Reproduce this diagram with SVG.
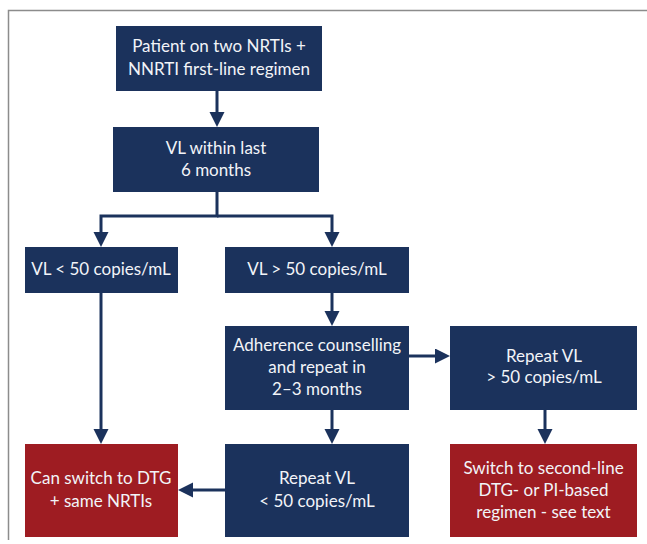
<svg xmlns="http://www.w3.org/2000/svg" width="647" height="544" viewBox="0 0 647 544">
<defs>
<style>
.nb{fill:#1b325c}
.rb{fill:#9e1c22}
.t{font-family:Lato,"Open Sans","Liberation Sans",sans-serif;font-size:17px;fill:#f2f4f8;text-anchor:middle}
.c{fill:none;stroke:#1b325c;stroke-width:3}
</style>
<marker id="ah" markerUnits="userSpaceOnUse" markerWidth="16" markerHeight="16" refX="5" refY="7.5" orient="auto">
<path d="M0,0 L15,7.5 L0,15 z" fill="#1b325c"/>
</marker>
</defs>
<rect width="647" height="544" fill="#ffffff"/>
<path d="M8.5,540 V10.5 H647" fill="none" stroke="#8c8c8c" stroke-width="1.5"/>
<g id="connectors">
<path class="c" d="M217,91 V117" marker-end="url(#ah)"/>
<path class="c" d="M217,192 V216 H101 V237" marker-end="url(#ah)"/>
<path class="c" d="M217,216 H332 V237" marker-end="url(#ah)"/>
<path class="c" d="M101,293 V434" marker-end="url(#ah)"/>
<path class="c" d="M332,293 V316" marker-end="url(#ah)"/>
<path class="c" d="M409,356 H440" marker-end="url(#ah)"/>
<path class="c" d="M332,410 V434" marker-end="url(#ah)"/>
<path class="c" d="M545,410 V434" marker-end="url(#ah)"/>
<path class="c" d="M225,490 H188" marker-end="url(#ah)"/>
</g>
<g id="n1"><rect class="nb" x="116" y="26" width="206" height="65"/>
<text class="t" x="219" y="52">Patient on two NRTIs +</text>
<text class="t" x="219" y="75">NNRTI first-line regimen</text></g>
<g id="n2"><rect class="nb" x="113" y="127" width="206" height="65"/>
<text class="t" x="216" y="154">VL within last</text>
<text class="t" x="216" y="176">6 months</text></g>
<g id="n3"><rect class="nb" x="25" y="247" width="153" height="46"/>
<text class="t" x="101" y="275">VL &lt; 50 copies/mL</text></g>
<g id="n4"><rect class="nb" x="225" y="247" width="184" height="46"/>
<text class="t" x="317" y="275">VL &gt; 50 copies/mL</text></g>
<g id="n5"><rect class="nb" x="225" y="326" width="184" height="84"/>
<text class="t" x="317" y="350.5">Adherence counselling</text>
<text class="t" x="317" y="372.5">and repeat in</text>
<text class="t" x="317" y="394.5">2–3 months</text></g>
<g id="n6"><rect class="nb" x="450" y="326" width="187" height="84"/>
<text class="t" x="544" y="361.5">Repeat VL</text>
<text class="t" x="544" y="383">&gt; 50 copies/mL</text></g>
<g id="n7"><rect class="rb" x="25" y="444" width="153" height="93"/>
<text class="t" x="101" y="484">Can switch to DTG</text>
<text class="t" x="101" y="506.5">+ same NRTIs</text></g>
<g id="n8"><rect class="nb" x="225" y="444" width="184" height="93"/>
<text class="t" x="317" y="483.5">Repeat VL</text>
<text class="t" x="317" y="506.5">&lt; 50 copies/mL</text></g>
<g id="n9"><rect class="rb" x="450" y="444" width="187" height="93"/>
<text class="t" x="543.5" y="473.5">Switch to second-line</text>
<text class="t" x="543.5" y="496">DTG- or PI-based</text>
<text class="t" x="543.5" y="517.5">regimen - see text</text></g>
</svg>
